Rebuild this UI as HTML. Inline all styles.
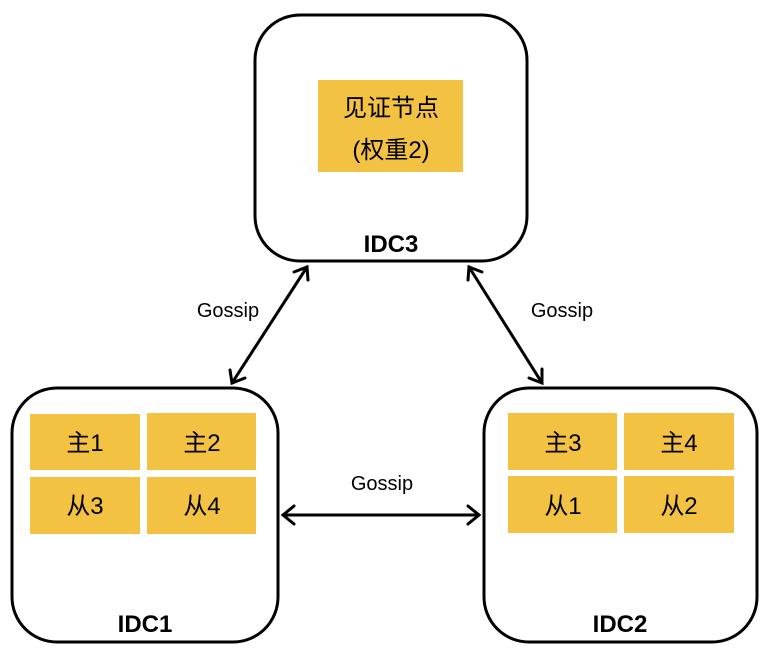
<!DOCTYPE html>
<html><head><meta charset="utf-8"><style>html,body{margin:0;padding:0;background:#fff}svg{display:block}</style></head>
<body>
<svg width="770" height="658" viewBox="0 0 770 658" xmlns="http://www.w3.org/2000/svg" font-family="'Liberation Sans','Noto Sans CJK SC',sans-serif">
<g fill="none" stroke="#000" stroke-width="3">
<rect x="255" y="15" width="272" height="246" rx="45"/>
<rect x="12" y="388" width="266" height="254" rx="45"/>
<rect x="484" y="388" width="273" height="254" rx="45"/>
</g>
<g fill="#f4c242">
<rect x="318" y="80" width="145" height="92"/>
<rect x="30" y="414" width="110" height="56"/>
<rect x="147" y="413" width="109" height="57"/>
<rect x="30" y="477" width="110" height="57"/>
<rect x="147" y="477" width="109" height="57"/>
<rect x="508" y="413" width="109" height="57"/>
<rect x="624" y="413" width="110" height="57"/>
<rect x="508" y="476" width="109" height="57"/>
<rect x="624" y="476" width="110" height="57"/>
</g>
<g stroke="#000" stroke-width="3" fill="none" stroke-linecap="round">
<line x1="232" y1="383" x2="307" y2="267"/>
<polyline points="230,370 232,383 245,378"/>
<polyline points="294,272 307,267 308,280"/>
<line x1="469" y1="267" x2="542" y2="383"/>
<polyline points="468,280 469,267 482,272"/>
<polyline points="529,378 542,383 542,369"/>
<line x1="283" y1="515" x2="479" y2="515"/>
<polyline points="294,506 283,515 294,524"/>
<polyline points="468,506 479,515 468,524"/>
</g>
<g fill="#000" text-anchor="middle">
<text x="391" y="116" font-size="24">见证节点</text>
<text x="391" y="158" font-size="24">(权重2)</text>
<text x="391" y="252" font-size="24" font-weight="bold">IDC3</text>
<text x="145" y="632" font-size="24" font-weight="bold">IDC1</text>
<text x="620" y="632" font-size="24" font-weight="bold">IDC2</text>
<text x="85" y="451" font-size="24">主1</text>
<text x="202" y="451" font-size="24">主2</text>
<text x="85" y="514" font-size="24">从3</text>
<text x="202" y="514" font-size="24">从4</text>
<text x="563" y="451" font-size="24">主3</text>
<text x="679" y="451" font-size="24">主4</text>
<text x="563" y="514" font-size="24">从1</text>
<text x="679" y="514" font-size="24">从2</text>
<text x="228" y="317" font-size="20">Gossip</text>
<text x="562" y="317" font-size="20">Gossip</text>
<text x="382" y="490" font-size="20">Gossip</text>
</g>
</svg>
</body></html>
